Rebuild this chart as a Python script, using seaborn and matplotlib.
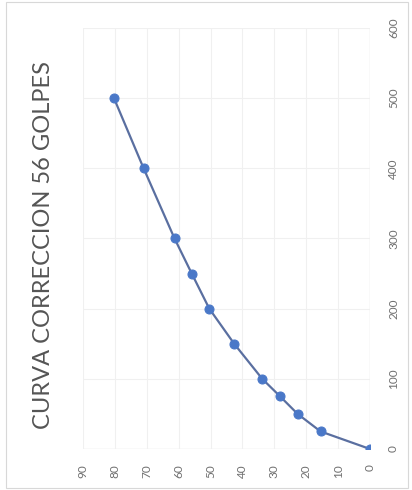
import matplotlib
matplotlib.use("Agg")
import matplotlib.pyplot as plt
import seaborn as sns
import pandas as pd

# Correction curve for 56 blows (chart drawn turned a quarter-turn)
golpes_x = [0, 25, 50, 75, 100, 150, 200, 250, 300, 400, 500]
correccion_y = [0, 15.5, 22.7, 28.2, 33.8, 42.6, 50.4, 55.9, 61.3, 71.0, 80.3]
x_ticks = [0, 100, 200, 300, 400, 500, 600]
y_ticks = [0, 10, 20, 30, 40, 50, 60, 70, 80, 90]
titulo = "CURVA CORRECCION 56 GOLPES"

df = pd.DataFrame({"x": golpes_x, "y": correccion_y})

sns.set_theme(style="white")
plt.rcParams["font.family"] = ["Lato", "DejaVu Sans"]

fig = plt.figure(figsize=(4.12, 4.90), dpi=100)
ax = fig.add_axes([0.2015, 0.0837, 0.6965, 0.8593])

# Value axis runs horizontally (reversed), category axis vertically
sns.lineplot(data=df, x="y", y="x", sort=False, ax=ax, color="#5a6fa0",
             linewidth=1.6, marker="o", markersize=6.5,
             markerfacecolor="#4a78c8", markeredgecolor="#4a78c8")

ax.set_xlim(90, 0)
ax.set_ylim(0, 600)
ax.set_xticks(y_ticks)
ax.set_yticks(x_ticks)
ax.set_xlabel("")
ax.set_ylabel("")

for s in ax.spines.values():
    s.set_visible(False)

ax.grid(True, color="#f0f0f0", linewidth=0.8)
ax.set_axisbelow(True)
ax.axvline(0, color="#dcdcdc", linewidth=0.9, zorder=0)
ax.axhline(0, color="#dcdcdc", linewidth=0.9, zorder=0)

ax.yaxis.tick_right()
ax.tick_params(axis="both", length=0, labelsize=8.5, labelcolor="#707070")
ax.tick_params(axis="x", pad=11)
ax.tick_params(axis="y", pad=13)
for lbl in ax.get_xticklabels():
    lbl.set_rotation(90)
for lbl in ax.get_yticklabels():
    lbl.set_rotation(90)
    lbl.set_va("center")

fig.text(0.106, 0.500, titulo, rotation=90, ha="center", va="center",
         fontsize=17, color="#555555", fontweight="normal")

# Thin chart frame
frame = plt.Rectangle((0.015, 0.005), 0.975, 0.99, transform=fig.transFigure,
                      fill=False, edgecolor="#d8d8d8", linewidth=0.8)
fig.patches.append(frame)

fig.savefig("out.png", dpi=100)
